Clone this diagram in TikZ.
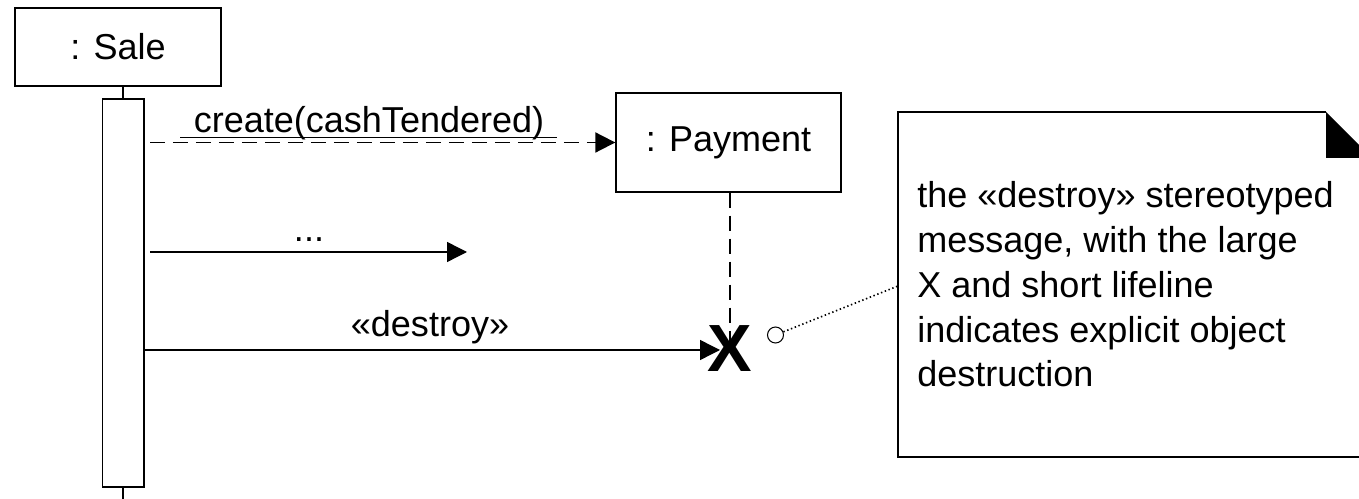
\documentclass[tikz,border=0pt]{standalone}
\usepackage{fontspec}
\setmainfont{Liberation Sans}
\usetikzlibrary{arrows.meta, positioning, calc}

\tikzset{
  objbox/.style={draw, line width=0.8pt, font=\fontsize{20.5}{24}\selectfont, inner sep=0pt},
  msglabel/.style={anchor=base, font=\fontsize{20.5}{24}\selectfont, inner sep=0pt},
  msg/.style={line width=0.8pt, -{Triangle[length=0.4cm,width=0.4cm]}},
  longdash/.style={line width=1.1pt, dash pattern=on 0.3cm off 0.16cm},
}

\begin{document}
\begin{tikzpicture}[x=0.02cm, y=-0.02cm]
\useasboundingbox (0,0) rectangle (1359,499);
\clip (0,0) rectangle (1359,499);

% Sale object with its activation bar
\node[objbox, minimum width=4.12cm, minimum height=1.56cm] (sale) at (118,47) {: Sale};
\node[draw, line width=0.8pt, minimum width=0.83cm, minimum height=7.76cm, inner sep=0pt] (bar) at (123.3,293) {};
\draw[line width=1pt] (bar.north) -- (bar.north |- sale.south);
\draw[line width=1pt] (bar.south) -- (123.3,499);

% Payment object, created and destroyed
\node[objbox, minimum width=4.5cm, minimum height=1.98cm] (payment) at (728.5,142.5) {: Payment};
\draw[longdash] (payment.south -| 730,0) -- (730,349);
\node[font=\fontsize{38}{38}\bfseries\selectfont, inner sep=0pt] (xmark) at (730,349) {X};

% Messages
\coordinate (createstart) at (150,142.5);
\draw[msg, longdash] (createstart) -- (payment.west);
\node[msglabel] (createlbl) at (369,133) {create(cashTendered)};
\draw[line width=0.8pt] ($(createlbl.base west)+(-13,4.5)$) -- ($(createlbl.base east)+(12,4.5)$);

\coordinate (dotsstart) at (150,252);
\coordinate (dotsend) at (467,252);
\draw[msg] (dotsstart) -- (dotsend);
\node[msglabel] (dotslbl) at (309,242) {...};

\coordinate (dtip) at (720,350);
\draw[msg] (bar.east |- dtip) -- (dtip);
\node[msglabel] (destroylbl) at (430,337) {«destroy»};

% Note with folded corner
\draw[line width=0.8pt] (1326,112) -- (898,112) -- (898,457) -- (1420,457);
\fill (1326,112) -- (1372,158) -- (1326,158) -- cycle;
\coordinate (noteleft) at (898,286);
\node[anchor=base west, align=left, inner sep=0pt, font=\fontsize{20.5}{25.6}\selectfont] (notetext) at (917,387)
  {the «destroy» stereotyped\\message, with the large\\X and short lifeline\\indicates explicit object\\destruction};

% Note anchor
\node[circle, draw, line width=0.6pt, minimum size=0.32cm, inner sep=0pt] (notepin) at (775.5,335) {};
\draw[line width=0.9pt, dash pattern=on 0.8pt off 1.5pt] (notepin) -- (noteleft);

\end{tikzpicture}
\end{document}
